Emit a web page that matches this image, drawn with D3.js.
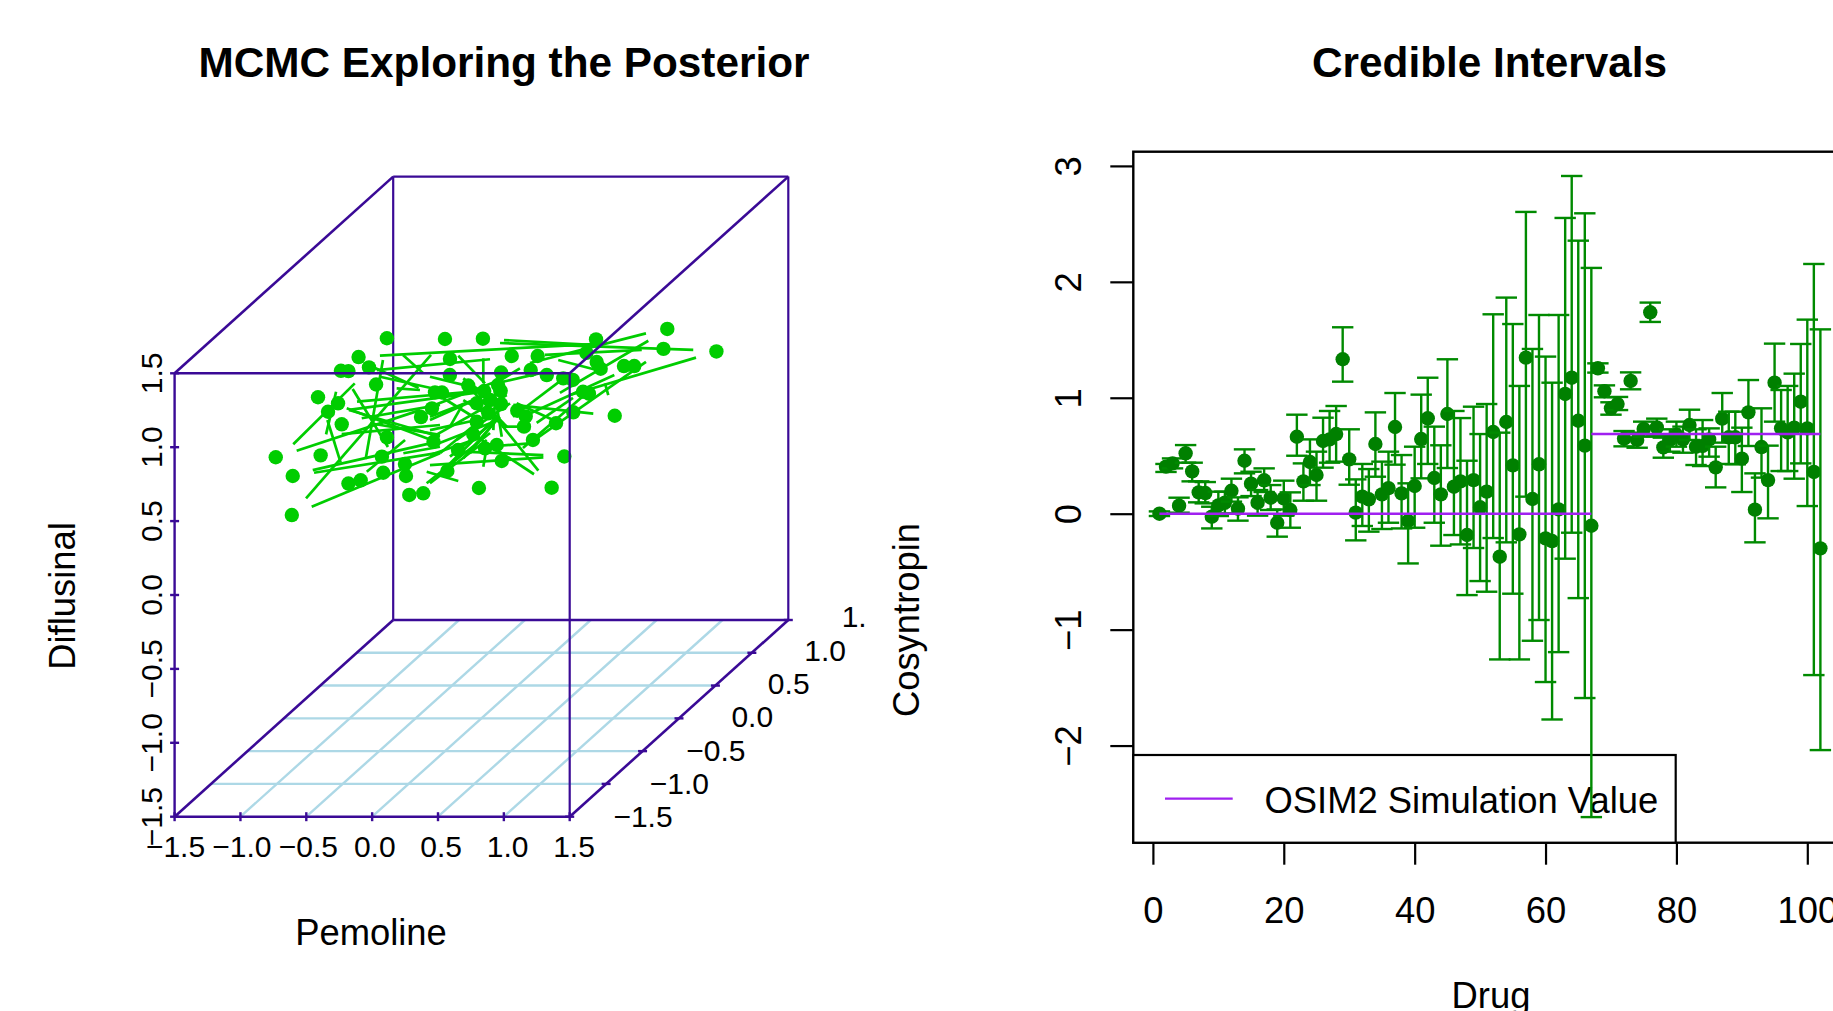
<!DOCTYPE html>
<html>
<head>
    <meta charset="utf-8">
    <script src="https://d3js.org/d3.v7.min.js"></script>
</head>
<style>
  body { margin: 0; background: white; }
  svg { display: block; }
  text { font-family: "Liberation Sans", Arial, sans-serif; fill: black; }
</style>
<body>
<svg id="my_dataviz" width="1833" height="1011"></svg>
<script>
    // Left panel: readings are projected onto the front plane of the box, depth can't be read from the picture
    var dotPemoline = [.112,.553,.841,1.700,2.241,2.212,2.614,1.627,1.705,1.735,1.912,1.990,-.103,.591,1.060,1.257,-.024,-.237,-.180,.590,.979,1.204,1.326,1.451,1.523,.730,.956,.976,.030,-.411,-.259,-.335,-.231,.112,-.732,-.391,.074,-.603,.084,-.180,-.087,.249,.257,.282,.388,-.610,.371,.454,.477,.530,.851,.466,.794,.895,.979,1.601,1.646,1.102,1.166,1.527,1.842,.882,.794,1.153,1.396,.768,1.221,.946,.857,.652,1.459,.984,.571,.811,1.363];
    var dotDiflusinal = [1.737,1.732,1.734,1.729,1.800,1.665,1.648,1.638,1.576,1.531,1.549,1.549,1.610,1.597,1.617,1.617,1.540,1.517,1.515,1.488,1.505,1.522,1.488,1.466,1.455,1.417,1.421,1.382,1.424,1.338,1.297,1.240,1.155,1.066,.932,.945,.936,.805,.827,.754,.776,.886,.805,.677,.688,.541,1.204,1.263,1.371,1.370,1.380,1.037,1.297,1.319,1.292,1.375,1.362,1.247,1.208,1.236,1.213,1.229,1.172,1.139,1.162,1.086,1.049,1.015,.992,.981,.937,.907,.839,.724,.726];

    // Chain moves, same units as the dots
    var movePemFrom = [-.599,-.573,-.502,-.459,-.451,-.441,-.350,-.340,-.148,.082,.059,.234,.035,.022,.186,.059,-.115,-.176,-.176,-.079,-.193,-.016,-.231,-.041,.237,.414,.414,1.001,1.413,.971,1.198,2.097,1.312,2.459,2.079,1.839,1.793,1.679,.654,.971,.844,.844,1.122,.766,.692,.439,1.145,1.069,.993,1.249,.439,.439,.439,.439,.439,.490,.692,.439,.439,.439,.439,.515,.591,.692,.743,.642,.439,.692,.768,.920,.933,1.097,.984,.870,.439,.591];
    var moveDifFrom = [1.020,.976,.654,.597,.845,.827,1.087,1.184,1.394,1.590,1.619,1.624,1.522,1.536,1.398,1.477,1.308,1.252,1.252,1.196,1.263,1.162,1.088,.834,.959,.756,.834,1.725,1.590,1.705,1.570,1.720,1.624,1.606,1.578,1.488,1.353,1.227,1.619,1.164,1.601,.868,1.534,1.087,.970,.879,.995,1.206,1.443,1.164,1.116,1.206,1.477,1.003,.756,.800,1.319,1.387,1.274,1.184,1.060,.959,.936,.925,.959,1.049,1.342,1.466,1.375,1.432,1.319,1.297,1.139,1.003,.947,1.139];
    var movePemTo = [-.132,.364,.447,.515,.439,.490,-.274,-.239,.120,-.049,1.677,.386,.895,.353,.363,.515,.895,.819,.515,.515,.515,.515,.515,.250,.515,.895,.654,1.692,1.705,2.438,2.079,1.426,2.047,1.502,1.198,1.122,1.768,1.072,.857,1.262,.844,.870,.917,1.229,1.300,1.300,1.627,1.487,1.326,1.525,.794,.870,.794,.895,.870,.946,1.022,.768,.971,.895,1.022,.946,.971,.946,.920,1.047,.794,.971,1.022,.984,.920,1.375,1.198,1.198,.768,.692];
    var moveDifTo = [1.432,1.251,1.624,.959,1.026,.960,1.375,.895,1.001,.920,1.698,1.502,1.595,1.400,1.387,1.387,1.387,1.373,1.071,1.286,1.026,1.083,1.150,1.049,1.003,1.096,.771,1.691,1.522,1.658,1.770,1.367,1.658,1.353,1.028,1.197,1.432,1.286,1.432,.841,1.432,1.003,1.421,.817,.947,.931,1.365,1.488,1.511,1.333,1.184,1.353,1.400,1.162,1.049,1.206,1.139,1.206,1.455,1.365,1.353,1.274,1.206,1.184,1.162,1.297,1.375,1.274,1.139,1.071,1.116,1.184,1.139,1.026,1.049,1.297];

    var pemTicks = [-1.5,-1,-.5,0,.5,1,1.5];
    var difTicks = [-1.5,-1,-.5,0,.5,1,1.5];
    var cosTicks = [-1.5,-1,-.5,0,.5,1,1.5];
    var pemLabels = ["\u22121.5","\u22121.0","\u22120.5","0.0","0.5","1.0","1.5"];
    var difLabels = ["\u22121.5","\u22121.0","\u22120.5","0.0","0.5","1.0","1.5"];
    // last one is cut by the panel edge in the source
    var cosLabels = ["\u22121.5","\u22121.0","\u22120.5","0.0","0.5","1.0","1."];

    // Right panel: posterior mean and credible limits for drugs 1..102
    var drugMean = [0,.406,.434,.069,.521,.365,.184,.178,-.026,.072,.095,.198,.043,.457,.259,.095,.288,.138,-.078,.132,.032,.664,.279,.446,.334,.627,.641,.687,1.332,.469,.009,.147,.124,.601,.167,.221,.748,.175,-.063,.239,.644,.823,.308,.167,.860,.233,.279,-.184,.290,.055,.190,.705,-.371,.791,.417,-.178,1.346,.127,.426,-.213,-.236,.037,1.033,1.173,.802,.587,-.104,1.254,1.056,.909,.946,.647,1.145,.636,.731,1.737,.745,.572,.636,.679,.641,.765,.578,.584,.641,.400,.820,.659,.659,.475,.874,.035,.575,.290,1.130,.736,.702,.742,.966,.736,.360,-.299];
    var drugUpper = [.02,.429,.477,.138,.592,.440,.279,.273,.060,.190,.190,.302,.141,.555,.362,.204,.391,.247,.037,.285,.184,.854,.434,.641,.535,.828,.886,.929,1.608,.728,.296,.429,.385,.874,.449,.535,1.041,.506,.262,.578,1.027,1.173,.751,.590,1.332,.886,.825,.457,.923,.687,.946,1.720,.699,1.864,1.636,1.102,2.603,1.421,1.714,1.355,1.130,1.714,2.551,2.913,2.355,2.591,2.120,1.297,1.107,.961,1.007,.713,1.219,.699,.794,1.821,.820,.656,.728,.794,.751,.897,.728,.808,.736,.578,1.041,.880,.880,.742,1.153,.348,.909,.587,1.467,1.067,1.102,1.208,1.464,1.674,2.154,1.590];
    var drugLower = [-.02,.360,.391,.009,.440,.279,.098,.089,-.127,-.020,.003,.104,-.060,.348,.152,-.017,.187,.032,-.198,-.017,-.121,.500,.112,.247,.112,.397,.440,.449,1.139,.250,-.230,-.106,-.155,.319,-.132,-.078,.423,-.127,-.429,-.121,.305,.429,-.078,-.276,.394,-.184,-.265,-.702,-.296,-.581,-.673,-.210,-1.257,-.247,-.690,-1.257,.147,-1.096,-.917,-1.452,-1.775,-1.194,-.388,-.164,-.728,-1.590,-2.617,1.217,1.004,.854,.894,.581,1.073,.569,.664,1.654,.670,.483,.535,.578,.526,.636,.420,.411,.492,.227,.613,.429,.426,.187,.584,-.247,.311,-.040,.794,.368,.368,.302,.434,.066,-1.392,-2.039];

    var simDrug = [1,67,67,102];
    var simValue = [0,0,.687,.687];
    var drugTicks = [0,20,40,60,80,100];
    var valueTicks = [-2,-1,0,1,2,3];

    var indigo = "#3a0a96", chainGreen = "#00cd00", grid = "#add8e6", drugGreen = "#008a00", purple = "#a020f0";

    var svg = d3.select("#my_dataviz");

    // --- left panel ---
    var pemScale = d3.scaleLinear().domain([-1.5, 1.5]).range([174.6, 569.7]);
    var difScale = d3.scaleLinear().domain([-1.5, 1.5]).range([816.7, 373.3]);
    var depthX = d3.scaleLinear().domain([-1.5, 1.5]).range([0, 218.6]);
    var depthY = d3.scaleLinear().domain([-1.5, 1.5]).range([0, -196.7]);
    // tick labels are spread a little wider than the ticks in the source
    var pemLabelScale = d3.scaleLinear().domain([-1.5, 1.5]).range([175.5, 574]);
    var cosLabelY = d3.scaleLinear().domain([-1.5, 1.5]).range([827.2, 627.2]);

    function px(p, c) { return pemScale(p) + depthX(c); }
    function py(d, c) { return difScale(d) + depthY(c); }

    function seg(g, p0, d0, c0, p1, d1, c1, color, w) {
        g.append("line")
            .attr("x1", px(p0, c0)).attr("y1", py(d0, c0))
            .attr("x2", px(p1, c1)).attr("y2", py(d1, c1))
            .attr("stroke", color).attr("stroke-width", w);
    }

    var left = svg.append("g");

    // floor grid
    pemTicks.slice(1, -1).forEach(function(t) { seg(left, t, -1.5, -1.5, t, -1.5, 1.5, grid, 2.4); });
    cosTicks.slice(1, -1).forEach(function(t) { seg(left, -1.5, -1.5, t, 1.5, -1.5, t, grid, 2.4); });

    // back of the box
    seg(left, -1.5, -1.5, 1.5, -1.5, 1.5, 1.5, indigo, 2.2);
    seg(left, -1.5, 1.5, 1.5, 1.5, 1.5, 1.5, indigo, 2.2);
    seg(left, 1.5, -1.5, 1.5, 1.5, 1.5, 1.5, indigo, 2.2);
    seg(left, -1.5, -1.5, 1.5, 1.5, -1.5, 1.5, indigo, 2.6);
    seg(left, -1.5, 1.5, -1.5, -1.5, 1.5, 1.5, indigo, 2.6);
    seg(left, -1.5, -1.5, -1.5, -1.5, -1.5, 1.5, indigo, 2.6);

    // chain
    left.selectAll(".move")
        .data(d3.range(movePemFrom.length))
        .enter().append("line")
        .attr("class", "move")
        .attr("x1", function(i) { return pemScale(movePemFrom[i]); })
        .attr("y1", function(i) { return difScale(moveDifFrom[i]); })
        .attr("x2", function(i) { return pemScale(movePemTo[i]); })
        .attr("y2", function(i) { return difScale(moveDifTo[i]); })
        .attr("stroke", chainGreen)
        .attr("stroke-width", 2.7);

    left.selectAll(".dot")
        .data(d3.range(dotPemoline.length))
        .enter().append("circle")
        .attr("class", "dot")
        .attr("cx", function(i) { return pemScale(dotPemoline[i]); })
        .attr("cy", function(i) { return difScale(dotDiflusinal[i]); })
        .attr("r", 7.2)
        .attr("fill", chainGreen);

    // front of the box goes over the points
    seg(left, -1.5, -1.5, -1.5, -1.5, 1.5, -1.5, indigo, 2.4);
    seg(left, -1.5, 1.5, -1.5, 1.5, 1.5, -1.5, indigo, 2.6);
    seg(left, 1.5, -1.5, -1.5, 1.5, 1.5, -1.5, indigo, 2.2);
    seg(left, 1.5, 1.5, -1.5, 1.5, 1.5, 1.5, indigo, 2.6);
    seg(left, -1.5, -1.5, -1.5, 1.5, -1.5, -1.5, indigo, 2.6);
    seg(left, 1.5, -1.5, -1.5, 1.5, -1.5, 1.5, indigo, 2.6);

    // tick marks and labels
    pemTicks.forEach(function(t, i) {
        left.append("line")
            .attr("x1", pemScale(t)).attr("x2", pemScale(t))
            .attr("y1", difScale(-1.5) - 4.5).attr("y2", difScale(-1.5) + 4.5)
            .attr("stroke", indigo).attr("stroke-width", 2.4);
        left.append("text")
            .attr("x", pemLabelScale(t)).attr("y", 857)
            .attr("text-anchor", "middle").style("font-size", "30px")
            .text(pemLabels[i]);
    });
    difTicks.forEach(function(t, i) {
        left.append("line")
            .attr("x1", pemScale(-1.5) - 4.5).attr("x2", pemScale(-1.5) + 4.5)
            .attr("y1", difScale(t)).attr("y2", difScale(t))
            .attr("stroke", indigo).attr("stroke-width", 2.4);
        left.append("text")
            .attr("transform", "translate(162," + difScale(t) + ") rotate(-90)")
            .attr("text-anchor", "middle").style("font-size", "30px")
            .text(difLabels[i]);
    });
    cosTicks.forEach(function(t, i) {
        left.append("line")
            .attr("x1", px(1.5, t) - 4.5).attr("x2", px(1.5, t) + 4.5)
            .attr("y1", py(-1.5, t)).attr("y2", py(-1.5, t))
            .attr("stroke", indigo).attr("stroke-width", 2.4);
        // labels are centred off the tick; the cut one keeps its left edge
        var cut = cosLabels[i] === "1.";
        left.append("text")
            .attr("x", cut ? 841.7 : px(1.5, t) + 73.3).attr("y", cosLabelY(t))
            .attr("text-anchor", cut ? "start" : "middle").style("font-size", "30px")
            .text(cosLabels[i]);
    });

    left.append("text").attr("x", 504).attr("y", 77)
        .attr("text-anchor", "middle").style("font-size", "42.3px").style("font-weight", "bold")
        .text("MCMC Exploring the Posterior");
    left.append("text").attr("x", 371).attr("y", 945)
        .attr("text-anchor", "middle").style("font-size", "36.4px")
        .text("Pemoline");
    left.append("text").attr("transform", "translate(75,596) rotate(-90)")
        .attr("text-anchor", "middle").style("font-size", "36.4px")
        .text("Diflusinal");
    left.append("text").attr("transform", "translate(919,620) rotate(-90)")
        .attr("text-anchor", "middle").style("font-size", "36.4px")
        .text("Cosyntropin");

    // --- right panel ---
    var xScale = d3.scaleLinear().domain([0, 100]).range([1152.9, 1807.3]);
    var yScale = d3.scaleLinear().domain([0, 3]).range([513.7, 165.9]);
    var right = svg.append("g");
    var boxLeft = 1133.3, boxTop = 151.7, boxBottom = 842.7;

    right.append("rect")
        .attr("x", boxLeft).attr("y", boxTop)
        .attr("width", 900).attr("height", boxBottom - boxTop)
        .attr("fill", "none").attr("stroke", "black").attr("stroke-width", 2.4);

    right.append("g")
        .attr("transform", "translate(0," + boxBottom + ")")
        .call(d3.axisBottom(xScale).tickValues(drugTicks).tickSize(22).tickPadding(0).tickFormat(d3.format("d")))
        .call(function(g) { g.select(".domain").remove(); })
        .call(function(g) {
            g.selectAll("line").attr("stroke-width", 2.2);
            g.selectAll("text").attr("y", 80).attr("dy", 0).style("font-size", "36.4px").style("font-family", "Liberation Sans");
        });

    right.append("g")
        .attr("transform", "translate(" + boxLeft + ",0)")
        .call(d3.axisLeft(yScale).tickValues(valueTicks).tickSize(23).tickFormat(d3.format("d")))
        .call(function(g) { g.select(".domain").remove(); })
        .call(function(g) {
            g.selectAll("line").attr("stroke-width", 2.2);
            g.selectAll("text")
                .attr("x", 0).attr("dy", 0)
                .attr("transform", "translate(-52,0) rotate(-90)")
                .attr("text-anchor", "middle")
                .style("font-size", "36.4px").style("font-family", "Liberation Sans");
        });

    // legend sits under the bars
    right.append("rect")
        .attr("x", boxLeft).attr("y", 755)
        .attr("width", 1675.7 - boxLeft).attr("height", boxBottom - 755)
        .attr("fill", "white").attr("stroke", "black").attr("stroke-width", 2.2);
    right.append("line")
        .attr("x1", 1165).attr("x2", 1232.7).attr("y1", 798.7).attr("y2", 798.7)
        .attr("stroke", purple).attr("stroke-width", 2.2);
    right.append("text").attr("x", 1264.5).attr("y", 812.7)
        .style("font-size", "36.4px").text("OSIM2 Simulation Value");

    var bars = right.selectAll(".bar")
        .data(drugMean)
        .enter().append("g")
        .attr("class", "bar");
    bars.append("line")
        .attr("x1", function(d, i) { return xScale(i + 1); })
        .attr("x2", function(d, i) { return xScale(i + 1); })
        .attr("y1", function(d, i) { return yScale(drugUpper[i]); })
        .attr("y2", function(d, i) { return yScale(drugLower[i]); })
        .attr("stroke", drugGreen).attr("stroke-width", 2.4);
    bars.append("line")
        .attr("x1", function(d, i) { return xScale(i + 1) - 10.7; })
        .attr("x2", function(d, i) { return xScale(i + 1) + 10.7; })
        .attr("y1", function(d, i) { return yScale(drugUpper[i]); })
        .attr("y2", function(d, i) { return yScale(drugUpper[i]); })
        .attr("stroke", drugGreen).attr("stroke-width", 2.4);
    bars.append("line")
        .attr("x1", function(d, i) { return xScale(i + 1) - 10.7; })
        .attr("x2", function(d, i) { return xScale(i + 1) + 10.7; })
        .attr("y1", function(d, i) { return yScale(drugLower[i]); })
        .attr("y2", function(d, i) { return yScale(drugLower[i]); })
        .attr("stroke", drugGreen).attr("stroke-width", 2.4);
    bars.append("circle")
        .attr("cx", function(d, i) { return xScale(i + 1); })
        .attr("cy", function(d) { return yScale(d); })
        .attr("r", 7.2)
        .attr("fill", "#008000");

    // simulation value, two pieces
    [0, 2].forEach(function(k) {
        right.append("line")
            .attr("x1", xScale(simDrug[k])).attr("x2", xScale(simDrug[k + 1]))
            .attr("y1", yScale(simValue[k])).attr("y2", yScale(simValue[k + 1]))
            .attr("stroke", purple).attr("stroke-width", 2.4);
    });

    right.append("text").attr("x", 1489.5).attr("y", 77)
        .attr("text-anchor", "middle").style("font-size", "42.3px").style("font-weight", "bold")
        .text("Credible Intervals");
    right.append("text").attr("x", 1491).attr("y", 1008)
        .attr("text-anchor", "middle").style("font-size", "36.4px")
        .text("Drug");
</script>
</body>
</html>
